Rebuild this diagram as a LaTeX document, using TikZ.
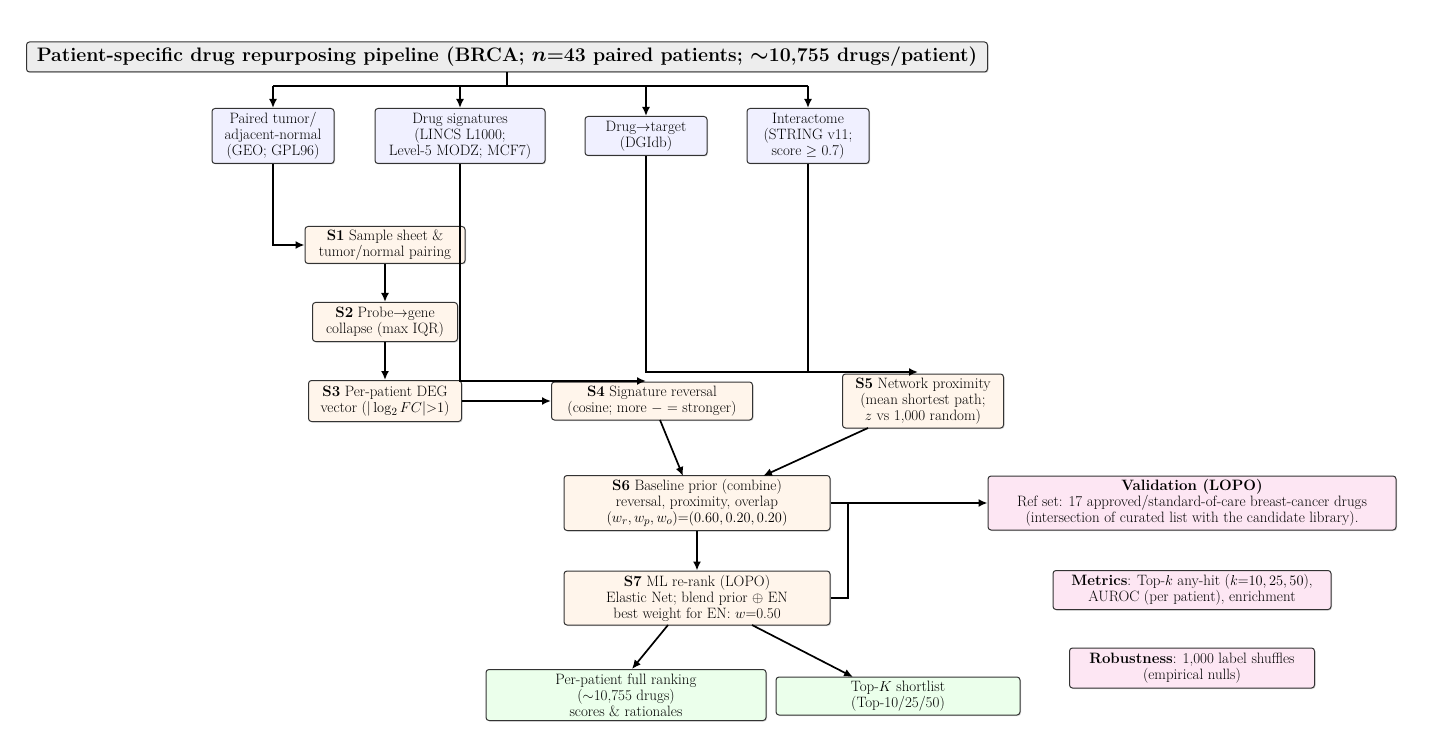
\documentclass[tikz,border=0pt]{standalone}
\usepackage{amsmath,amssymb}
\usetikzlibrary{arrows.meta,shadows}
\begin{document}
\begin{tikzpicture}[x=1pt,y=-1pt,
 box/.style={draw=black!80,line width=1pt,rounded corners=3pt,align=center,font=\fontsize{15}{16}\selectfont,inner sep=2pt,drop shadow={shadow xshift=1pt,shadow yshift=-1pt,opacity=0.3}},
 inp/.style={box,fill=blue!6},
 stp/.style={box,fill=orange!8},
 val/.style={box,fill=magenta!10},
 outb/.style={box,fill=green!8},
 arr/.style={draw=black,line width=1.7pt,-{Latex[length=9pt,width=8pt]}},
 ln/.style={draw=black,line width=1.7pt}]
\useasboundingbox (0,0) rectangle (1444,746);
\node[box,fill=black!7,font=\fontsize{19.5}{22}\selectfont\bfseries,minimum height=30pt,minimum width=961pt] (title) at (507,57) {Patient-specific drug repurposing pipeline (BRCA; $\boldsymbol{n}$=43 paired patients; $\boldsymbol\sim$10,755 drugs/patient)};
\node[inp,minimum width=122pt,minimum height=55pt] (pt) at (273,136) {Paired tumor/\\adjacent-normal\\(GEO; GPL96)};
\node[inp,minimum width=170pt,minimum height=55pt] (ds) at (460,136) {Drug signatures\\(LINCS L1000;\\Level-5 MODZ; MCF7)};
\node[inp,minimum width=122pt,minimum height=39pt] (dt) at (646,136) {Drug$\to$target\\(DGIdb)};
\node[inp,minimum width=122pt,minimum height=55pt] (it) at (808,136) {Interactome\\(STRING v11;\\score $\geq$ 0.7)};
\node[stp,minimum width=160pt,minimum height=37pt] (s1) at (385,245) {\textbf{S1} Sample sheet \&\\tumor/normal pairing};
\node[stp,minimum width=145pt,minimum height=39pt] (s2) at (385,322) {\textbf{S2} Probe$\to$gene\\collapse (max IQR)};
\node[stp,minimum width=153pt,minimum height=41pt] (s3) at (385,401) {\textbf{S3} Per-patient DEG\\vector ($|\log_2 FC|{>}1$)};
\node[stp,minimum width=201pt,minimum height=38pt] (s4) at (652,401) {\textbf{S4} Signature reversal\\(cosine; more $-$ = stronger)};
\node[stp,minimum width=161pt,minimum height=54pt] (s5) at (923,401) {\textbf{S5} Network proximity\\(mean shortest path;\\$z$ vs 1,000 random)};
\node[stp,minimum width=266pt,minimum height=55pt] (s6) at (697,503) {\textbf{S6} Baseline prior (combine)\\reversal, proximity, overlap\\$(w_r,w_p,w_o)$=$(0.60,0.20,0.20)$};
\node[stp,minimum width=266pt,minimum height=54pt] (s7) at (697,598) {\textbf{S7} ML re-rank (LOPO)\\Elastic Net; blend prior $\oplus$ EN\\best weight for EN: $w$=0.50};
\node[val,minimum width=408pt,minimum height=54pt] (va) at (1192,503) {\textbf{Validation (LOPO)}\\Ref set: 17 approved/standard-of-care breast-cancer drugs\\(intersection of curated list with the candidate library).};
\node[val,minimum width=278pt,minimum height=39pt] (me) at (1192,590) {\textbf{Metrics}: Top-$k$ any-hit ($k$=$10,25,50$),\\AUROC (per patient), enrichment};
\node[val,minimum width=245pt,minimum height=40pt] (ro) at (1192,668) {\textbf{Robustness}: 1,000 label shuffles\\(empirical nulls)};
\node[outb,minimum width=280pt,minimum height=51pt] (fr) at (626,695) {Per-patient full ranking\\($\sim$10,755 drugs)\\scores \& rationales};
\node[outb,minimum width=244pt,minimum height=38pt] (tk) at (898,696) {Top-$K$ shortlist\\(Top-10/25/50)};
\coordinate (bus) at (507,86);
\draw[ln] (title.south) -- (bus);
\draw[ln] (273,86) -- (808,86);
\foreach \n in {pt,ds,dt,it} \draw[arr] (bus -| \n.north) -- (\n.north);
\draw[arr] (pt.south) |- (s1.west);
\draw[arr] (s1) -- (s2);
\draw[arr] (s2) -- (s3);
\draw[arr] (s3) -- (s4);
\draw[arr] (ds.south) -- (460,381) -- (646,381);
\draw[arr] (dt.south) -- (646,372) -- (918,372);
\draw[ln] (it.south) -- (808,372);
\draw[arr] (660,420) -- (683,476);
\draw[arr] (868,428) -- (763,476);
\draw[arr] (s6) -- (s7);
\draw[arr] (s6.east) -- (va.west);
\draw[ln] (s7.east) -- (848,598) -- (848,503);
\draw[arr] (668,625) -- (632,669);
\draw[arr] (752,625) -- (853,677);
\end{tikzpicture}
\end{document}
